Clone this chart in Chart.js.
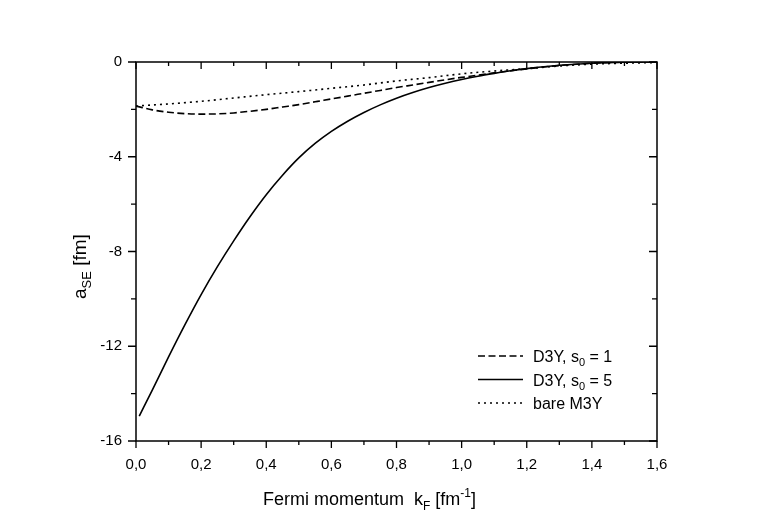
<!DOCTYPE html>
<html>
<head>
<meta charset="utf-8">
<script src="https://cdn.jsdelivr.net/npm/chart.js@4"></script>
<style>
  body { margin: 0; background: #fff; }
  #wrap { width: 763px; height: 532px; }
</style>
</head>
<body>
<div id="wrap"><canvas id="chart" width="763" height="532"></canvas></div>
<script>
// values
const kSolid = [0.01, 0.05, 0.1, 0.15, 0.2, 0.25, 0.3, 0.35, 0.4, 0.45, 0.5, 0.55, 0.6, 0.65, 0.7, 0.75, 0.8, 0.85, 0.9, 0.95, 1.0, 1.05, 1.1, 1.15, 1.2, 1.3, 1.4, 1.5, 1.6];
const aD3Y5 = [-14.95, -13.85, -12.45, -11.1, -9.82, -8.64, -7.55, -6.53, -5.6, -4.78, -4.05, -3.44, -2.93, -2.5, -2.13, -1.81, -1.53, -1.29, -1.08, -0.9, -0.74, -0.6, -0.48, -0.37, -0.28, -0.14, -0.05, -0.01, 0];

const kDashed = [0.0, 0.05, 0.1, 0.15, 0.2, 0.25, 0.3, 0.35, 0.4, 0.45, 0.5, 0.55, 0.6, 0.65, 0.7, 0.75, 0.8, 0.85, 0.9, 0.95, 1.0, 1.1, 1.2, 1.3, 1.4, 1.5, 1.6];
const aD3Y1 = [-1.86, -2.02, -2.12, -2.18, -2.2, -2.19, -2.15, -2.08, -2.0, -1.9, -1.8, -1.68, -1.56, -1.44, -1.32, -1.2, -1.08, -0.97, -0.86, -0.75, -0.65, -0.46, -0.29, -0.15, -0.05, -0.01, 0];

const kDotted = [0.0, 0.1, 0.2, 0.3, 0.4, 0.5, 0.6, 0.7, 0.8, 0.9, 1.0, 1.1, 1.2, 1.3, 1.4, 1.5, 1.6];
const aM3Y = [-1.86, -1.77, -1.66, -1.52, -1.38, -1.25, -1.11, -0.97, -0.8, -0.66, -0.5, -0.38, -0.28, -0.17, -0.09, -0.05, -0.02];

const xTicks = [0, 0.2, 0.4, 0.6, 0.8, 1.0, 1.2, 1.4, 1.6];
const yTicks = [0, -4, -8, -12, -16];

const FONT = '"Liberation Sans", Arial, Helvetica, sans-serif';

function pts(xs, ys) {
    return xs.map((x, i) => ({ x: x, y: ys[i] }));
}

// legend rows: main text, subscript, rest
const legendRows = [
    ['D3Y, s', '0', ' = 1'],
    ['D3Y, s', '0', ' = 5'],
    ['bare M3Y', '', '']
];

const frameTicks = {
    id: 'frameTicks',
    afterDraw(chart) {
        const ctx = chart.ctx;
        const a = chart.chartArea;
        const xs = chart.scales.x, ys = chart.scales.y;
        ctx.save();
        ctx.strokeStyle = '#000';
        ctx.lineWidth = 1.5;
        ctx.strokeRect(a.left, a.top, a.right - a.left, a.bottom - a.top);

        ctx.lineWidth = 1.3;
        ctx.beginPath();
        for (let i = 0; i <= 16; i++) {
            const px = xs.getPixelForValue(i / 10);
            const len = i % 2 === 0 ? 7 : 4;
            ctx.moveTo(px, a.bottom); ctx.lineTo(px, a.bottom + len); // outward
            ctx.moveTo(px, a.top); ctx.lineTo(px, a.top + len);       // inward
        }
        for (let v = 0; v >= -16; v -= 2) {
            const py = ys.getPixelForValue(v);
            const len = v % 4 === 0 ? 8 : 5;
            ctx.moveTo(a.left - len, py); ctx.lineTo(a.left, py);
            ctx.moveTo(a.right - len, py); ctx.lineTo(a.right, py);
        }
        ctx.stroke();

        // axis titles
        ctx.fillStyle = '#000';
        ctx.textBaseline = 'alphabetic';
        ctx.textAlign = 'left';
        let x = 263;
        const by = 505;
        ctx.font = '18px ' + FONT;
        ctx.fillText('Fermi momentum  k', x, by);
        x += ctx.measureText('Fermi momentum  k').width;
        ctx.font = '12px ' + FONT;
        ctx.fillText('F', x, by + 5);
        x += ctx.measureText('F').width;
        ctx.font = '18px ' + FONT;
        ctx.fillText(' [fm', x, by);
        x += ctx.measureText(' [fm').width;
        ctx.font = '12px ' + FONT;
        ctx.fillText('-1', x, by - 8);
        x += ctx.measureText('-1').width;
        ctx.font = '18px ' + FONT;
        ctx.fillText(']', x, by);

        ctx.save();
        ctx.translate(85.5, 299);
        ctx.rotate(-Math.PI / 2);
        let t = 0;
        ctx.font = '19px ' + FONT;
        ctx.fillText('a', t, 0);
        t += ctx.measureText('a').width;
        ctx.font = '13px ' + FONT;
        ctx.fillText('SE', t, 5);
        t += ctx.measureText('SE').width;
        ctx.font = '19px ' + FONT;
        ctx.fillText(' [fm]', t, 0);
        ctx.restore();

        // legend
        chart.data.datasets.forEach((ds, i) => {
            const ly = 356 + i * 23.5;
            ctx.beginPath();
            ctx.lineWidth = ds.borderWidth;
            ctx.setLineDash(ds.borderDash || []);
            ctx.moveTo(478, ly);
            ctx.lineTo(523, ly);
            ctx.stroke();
            ctx.setLineDash([]);
            const row = legendRows[i];
            let lx = 533;
            ctx.font = '16px ' + FONT;
            ctx.fillText(row[0], lx, ly + 6);
            lx += ctx.measureText(row[0]).width;
            if (row[1]) {
                ctx.font = '11px ' + FONT;
                ctx.fillText(row[1], lx, ly + 10);
                lx += ctx.measureText(row[1]).width;
                ctx.font = '16px ' + FONT;
                ctx.fillText(row[2], lx, ly + 6);
            }
        });
        ctx.restore();
    }
};

new Chart(document.getElementById('chart').getContext('2d'), {
    type: 'line',
    data: {
        datasets: [{
            label: 'D3Y, s0 = 1',
            data: pts(kDashed, aD3Y1),
            borderColor: '#000',
            borderWidth: 1.6,
            borderDash: [7, 3.5],
            pointRadius: 0,
            cubicInterpolationMode: 'monotone'
        }, {
            label: 'D3Y, s0 = 5',
            data: pts(kSolid, aD3Y5),
            borderColor: '#000',
            borderWidth: 1.6,
            pointRadius: 0,
            cubicInterpolationMode: 'monotone'
        }, {
            label: 'bare M3Y',
            data: pts(kDotted, aM3Y),
            borderColor: '#000',
            borderWidth: 1.6,
            borderDash: [2, 4],
            pointRadius: 0,
            cubicInterpolationMode: 'monotone'
        }]
    },
    options: {
        responsive: false,
        animation: false,
        layout: { padding: { left: 0, top: 62, right: 106, bottom: 0 } },
        plugins: {
            legend: { display: false },
            tooltip: { enabled: false }
        },
        scales: {
            x: {
                type: 'linear',
                min: 0,
                max: 1.6,
                afterBuildTicks: s => { s.ticks = xTicks.map(v => ({ value: v })); },
                afterFit: s => { s.height = 91; },
                grid: { display: false, drawTicks: false },
                border: { display: false },
                ticks: {
                    padding: 15,
                    color: '#000',
                    font: { family: FONT, size: 15 },
                    maxRotation: 0,
                    callback: v => v.toFixed(1).replace('.', ',')
                }
            },
            y: {
                type: 'linear',
                min: -16,
                max: 0,
                afterBuildTicks: s => { s.ticks = yTicks.map(v => ({ value: v })); },
                afterFit: s => { s.width = 136; },
                grid: { display: false, drawTicks: false },
                border: { display: false },
                ticks: {
                    padding: 14,
                    color: '#000',
                    font: { family: FONT, size: 15 },
                    callback: v => String(v)
                }
            }
        }
    },
    plugins: [frameTicks]
});
</script>
</body>
</html>
